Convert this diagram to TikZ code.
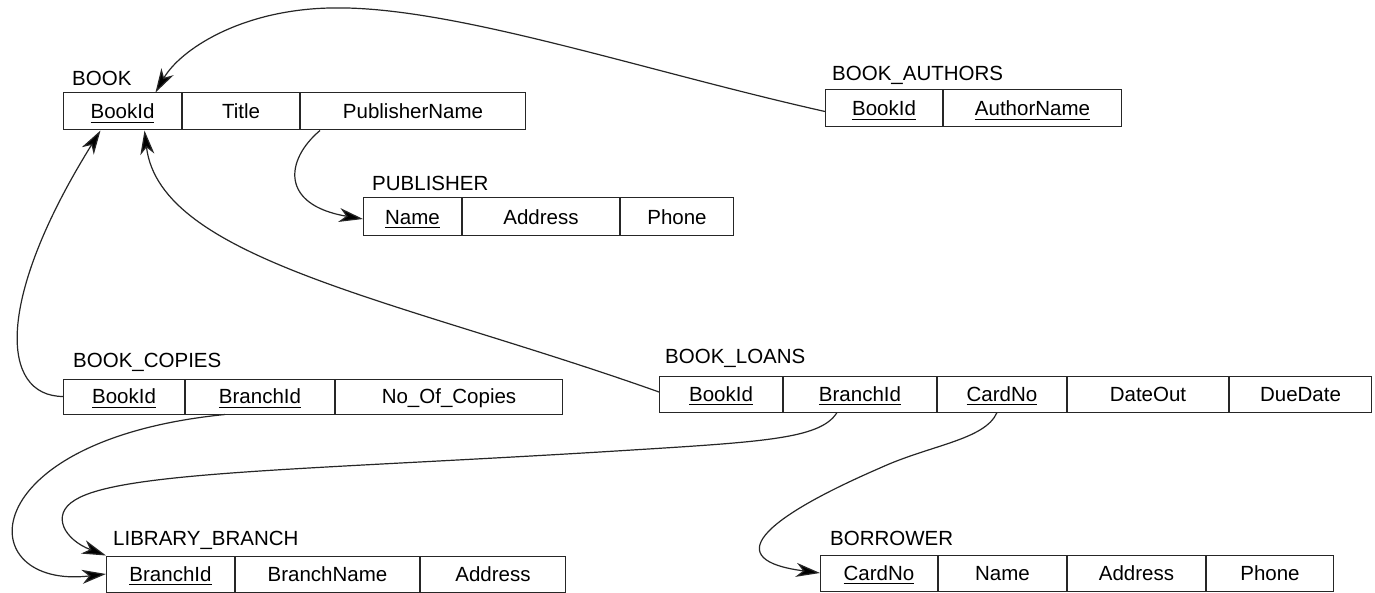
\documentclass[tikz,border=0pt]{standalone}
\usepackage{fontspec}
\setmainfont{Liberation Sans}
\usetikzlibrary{arrows.meta}
\newcommand{\ukey}[1]{\setbox0\hbox{#1}\rlap{\rule[-4pt]{\wd0}{1.1pt}}\box0}
\begin{document}
\begin{tikzpicture}[x=1pt,y=-1pt,
  cell/.style={draw=black!85, line width=1pt, minimum height=36pt, inner sep=0pt,
    text height=14.5pt, text depth=0pt, anchor=west, font=\fontsize{20.5}{24}\selectfont},
  title/.style={anchor=west, inner sep=0pt, font=\fontsize{20.5}{24}\selectfont},
  fk/.style={line width=1.2pt, draw=black!85, -{Stealth[length=24pt,width=14pt,inset=7pt,fill=black]}}]
\useasboundingbox[fill=white] (0,0) rectangle (1375,593);

% BOOK
\node[title] (tbook) at (72,78) {BOOK};
\node[cell, minimum width=118pt, minimum height=37pt] (b1) at (63,111.5) {\ukey{BookId}};
\node[cell, minimum width=117pt, minimum height=37pt] (b2) at (b1.east) {Title};
\node[cell, minimum width=225pt, minimum height=37pt] (b3) at (b2.east) {PublisherName};

% BOOK_AUTHORS
\node[title] (tauth) at (832,75) {BOOK\_AUTHORS};
\node[cell, minimum width=117pt, minimum height=37pt] (ba1) at (825,108.5) {\ukey{BookId}};
\node[cell, minimum width=178pt, minimum height=37pt] (ba2) at (ba1.east) {\ukey{AuthorName}};

% PUBLISHER
\node[title] (tpub) at (372,183) {PUBLISHER};
\node[cell, minimum width=98pt, minimum height=38pt] (p1) at (363,217) {\ukey{Name}};
\node[cell, minimum width=157pt, minimum height=38pt] (p2) at (p1.east) {Address};
\node[cell, minimum width=113pt, minimum height=38pt] (p3) at (p2.east) {Phone};

% BOOK_COPIES
\node[title] (tcop) at (73,362) {BOOK\_COPIES};
\node[cell, minimum width=121pt, minimum height=35pt] (bc1) at (63,396.5) {\ukey{BookId}};
\node[cell, minimum width=149pt, minimum height=35pt] (bc2) at (bc1.east) {\ukey{BranchId}};
\node[cell, minimum width=227pt, minimum height=35pt] (bc3) at (bc2.east) {No\_Of\_Copies};

% BOOK_LOANS
\node[title] (tloan) at (665,358) {BOOK\_LOANS};
\node[cell, minimum width=123pt] (bl1) at (659,394) {\ukey{BookId}};
\node[cell, minimum width=153pt] (bl2) at (bl1.east) {\ukey{BranchId}};
\node[cell, minimum width=129pt] (bl3) at (bl2.east) {\ukey{CardNo}};
\node[cell, minimum width=161pt] (bl4) at (bl3.east) {DateOut};
\node[cell, minimum width=142pt] (bl5) at (bl4.east) {DueDate};

% LIBRARY_BRANCH
\node[title] (tlib) at (113,540) {LIBRARY\_BRANCH};
\node[cell, minimum width=128pt] (lb1) at (106,574) {\ukey{BranchId}};
\node[cell, minimum width=184pt] (lb2) at (lb1.east) {BranchName};
\node[cell, minimum width=145pt] (lb3) at (lb2.east) {Address};

% BORROWER
\node[title] (tbor) at (830,538) {BORROWER};
\node[cell, minimum width=117pt] (bo1) at (820,573) {\ukey{CardNo}};
\node[cell, minimum width=128pt] (bo2) at (bo1.east) {Name};
\node[cell, minimum width=138pt] (bo3) at (bo2.east) {Address};
\node[cell, minimum width=127pt] (bo4) at (bo3.east) {Phone};

% foreign keys
\draw[fk] ([yshift=-3pt]ba1.west) .. controls (640,70) and (450,5) .. (330,8)
          .. controls (240,10) and (180,50) .. ([xshift=33pt]b1.north);
\draw[fk] ([xshift=20pt]b3.south west) .. controls (285,160) and (280,205) .. ([yshift=-2pt]p1.west);
\draw[fk] (bc1.west) .. controls (0,396) and (-5,300) .. ([xshift=-22pt]b1.south);
\draw[fk] ([yshift=2pt]bl1.west) .. controls (400,300) and (160,260) .. ([xshift=22pt]b1.south);
\draw[fk] ([xshift=-35pt]bc2.south) .. controls (-30,440) and (-30,590) .. (lb1.west);
\draw[fk] ([xshift=-23pt]bl2.south) .. controls (820,440) and (760,442) .. (600,452)
          .. controls (300,470) and (120,472) .. (75,500)
          .. controls (50,515) and (65,540) .. (lb1.north west);
\draw[fk] ([xshift=-5pt]bl3.south) .. controls (985,440) and (930,445) .. (880,468)
          .. controls (760,520) and (720,560) .. (bo1.west);
\end{tikzpicture}
\end{document}
